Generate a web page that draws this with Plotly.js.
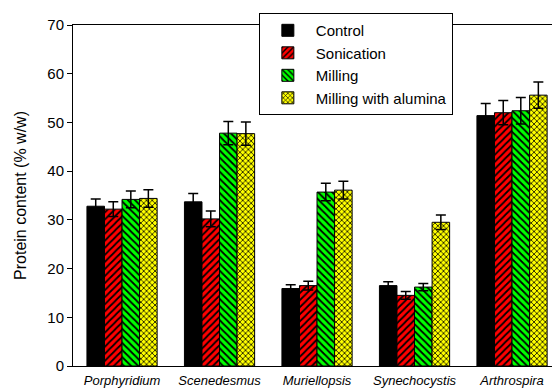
<!DOCTYPE html>
<html>
<head>
<meta charset="utf-8">
<script src="https://cdn.plot.ly/plotly-3.0.1.min.js"></script>
<style>html,body{margin:0;padding:0;background:#fff}#chart{width:552px;height:390px}</style>
</head>
<body>
<div id="chart"></div>
<script>
var categories = ["Porphyridium", "Scenedesmus", "Muriellopsis", "Synechocystis", "Arthrospira"];
var seriesNames = ["Control", "Sonication", "Milling", "Milling with alumina"];
var control = [32.8, 33.7, 15.9, 16.5, 51.4];
var controlErr = [1.5, 1.7, 0.8, 0.8, 2.5];
var sonication = [32.2, 30.2, 16.5, 14.5, 52.0];
var sonicationErr = [1.5, 1.6, 0.9, 0.8, 2.5];
var milling = [34.2, 47.8, 35.7, 16.2, 52.4];
var millingErr = [1.7, 2.4, 1.8, 0.75, 2.7];
var alumina = [34.4, 47.7, 36.1, 29.5, 55.6];
var aluminaErr = [1.8, 2.4, 1.8, 1.5, 2.7];
var yTicks = [0, 10, 20, 30, 40, 50, 60, 70];

var values = [control, sonication, milling, alumina];
var errs = [controlErr, sonicationErr, millingErr, aluminaErr];
var fills = ["#000000", "#ff0000", "#00ff00", "#ffff00"];
var shapes = ["", "/", "\\", "x"];
var sizes = [0, 5, 5, 4];

var traces = values.map(function (v, i) {
  var marker = {color: fills[i], line: {color: "#000000", width: 1}};
  if (shapes[i]) {
    marker.pattern = {shape: shapes[i], bgcolor: fills[i], fgcolor: "#000000", size: sizes[i], solidity: 0.35, fillmode: "replace"};
  }
  return {
    type: "bar",
    name: seriesNames[i],
    x: categories.map(function (c, k) { return k; }),
    y: v,
    marker: marker,
    error_y: {type: "data", array: errs[i], visible: true, color: "#000000", thickness: 1.5, width: 5}
  };
});

var layout = {
  width: 552, height: 390,
  margin: {l: 73, r: 0, t: 25, b: 24},
  paper_bgcolor: "#ffffff", plot_bgcolor: "#ffffff",
  font: {family: "Liberation Sans, Arial, sans-serif", color: "#000000"},
  barmode: "group", bargap: 0.28, bargroupgap: 0,
  showlegend: true,
  legend: {
    x: 0.388, y: 1.035, xanchor: "left", yanchor: "top",
    bgcolor: "#ffffff", bordercolor: "#000000", borderwidth: 1,
    font: {size: 15, family: "Liberation Sans, Arial, sans-serif"},
    tracegroupgap: 0, itemwidth: 46
  },
  xaxis: {
    range: [-0.503, 4.41],
    tickmode: "array",
    tickvals: categories.map(function (c, k) { return k; }),
    ticktext: categories.map(function (c) { return "<i>" + c + "</i>"; }),
    ticks: "", showgrid: false, zeroline: false,
    showline: true, linecolor: "#000000", linewidth: 1, mirror: true,
    tickfont: {size: 13},
    ticklabelstandoff: 2
  },
  yaxis: {
    range: [0, 70],
    tickmode: "array", tickvals: yTicks,
    ticks: "outside", ticklen: 5, tickcolor: "#000000", tickwidth: 1,
    showgrid: false, zeroline: false,
    showline: true, linecolor: "#000000", linewidth: 1,
    tickfont: {size: 15},
    title: {text: "Protein content (% w/w)", font: {size: 16}, standoff: 16}
  }
};

Plotly.newPlot("chart", traces, layout, {displayModeBar: false, staticPlot: true});
</script>
</body>
</html>
